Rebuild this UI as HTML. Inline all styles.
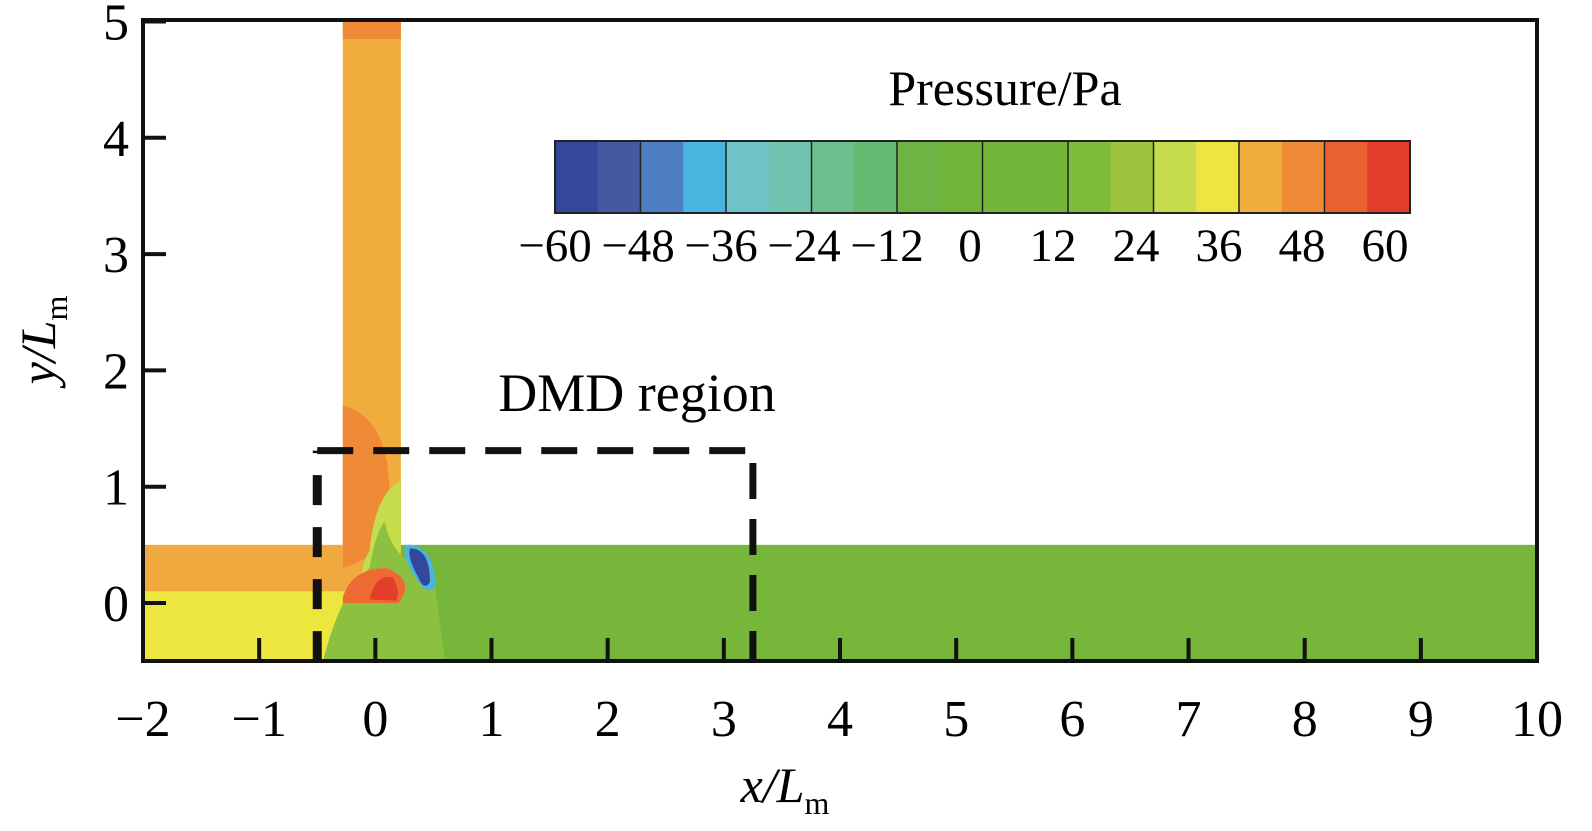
<!DOCTYPE html>
<html><head><meta charset="utf-8"><style>
body{margin:0;background:#fff;}
svg{display:block;font-family:"Liberation Serif",serif;}
</style></head><body>
<svg id="chart" width="1592" height="831" viewBox="0 0 1592 831">
<defs><clipPath id="pc"><rect x="143" y="20" width="1394" height="641"/></clipPath></defs>
<g id="field" clip-path="url(#pc)"></g>
<g id="axes"></g>
<g id="cbar"></g>
<text x="1005" y="105" font-size="50" text-anchor="middle">Pressure/Pa</text>
<text x="637" y="411" font-size="54" text-anchor="middle">DMD region</text>
<text x="785" y="802" font-size="50" text-anchor="middle" font-style="italic">x/L<tspan font-style="normal" font-size="32" dy="12">m</tspan></text>
<text transform="translate(55,340) rotate(-90)" font-size="50" text-anchor="middle" font-style="italic">y/L<tspan font-style="normal" font-size="32" dy="12">m</tspan></text>
</svg>
<script>
const xTicks=[-2,-1,0,1,2,3,4,5,6,7,8,9,10];
const yTicks=[0,1,2,3,4,5];
const cbLevels=[-60,-48,-36,-24,-12,0,12,24,36,48,60];
const cbColors=["#34479a","#46589f","#4d7ec4","#4ab4e0","#6ec3c8","#72c2b0","#6ebf8f","#66b970","#6db445","#72b43a","#74b63a","#74b63a","#80bc3c","#9cc43e","#c6dc4a","#f0e442","#f1ae3e","#ef8a36","#ea6130","#e33e2c"];
const dmdBox=[-0.5,3.25,-0.5,1.31];
const NS="http://www.w3.org/2000/svg";
const X=v=>143+(v+2)*116.17, Y=v=>603-v*116.3;
function mk(p,t,a){const e=document.createElementNS(NS,t);for(const k in a)e.setAttribute(k,a[k]);p.appendChild(e);return e;}
const F=document.getElementById('field');
function reg(x0,x1,y0,y1,c,name){const r=mk(F,'rect',{x:X(x0),y:Y(y1),width:X(x1)-X(x0),height:Y(y0)-Y(y1),fill:c});

return r;}
reg(-2,0.22,-0.6,0.1,"#ede63f","inlet-lower-region");
reg(-2,0.22,0.1,0.5,"#f0a93e","inlet-upper-region");
reg(-0.28,0.22,0.5,5.2,"#f1ac3e","vertical-pipe");
reg(-0.28,0.22,4.85,5.2,"#ef8a36","pipe-top-region");
reg(0.22,10.2,-0.6,0.5,"#75b63b","outlet-channel");
const blobs=[["M"+X(-0.28)+" "+Y(1.7)+" Q"+X(0.1)+" "+Y(1.6)+" "+X(0.12)+" "+Y(1.0)+" L"+X(0.05)+" "+Y(0.5)+" Q"+X(-0.1)+" "+Y(0.35)+" "+X(-0.28)+" "+Y(0.3)+"Z","#ef8a36"],
["M"+X(0.22)+" "+Y(1.05)+" Q"+X(0.0)+" "+Y(0.95)+" "+X(-0.05)+" "+Y(0.45)+" Q"+X(-0.25)+" "+Y(0.1)+" "+X(0.2)+" "+Y(0.15)+" L"+X(0.22)+" "+Y(0.5)+"Z","#c6dc4a"],
["M"+X(0.08)+" "+Y(0.7)+" Q"+X(0.15)+" "+Y(0.35)+" "+X(0.5)+" "+Y(0.25)+" L"+X(0.6)+" "+Y(-0.5)+" L"+X(-0.45)+" "+Y(-0.5)+" Q"+X(-0.3)+" "+Y(0.1)+" "+X(-0.05)+" "+Y(0.3)+" Q"+X(0.0)+" "+Y(0.6)+" "+X(0.08)+" "+Y(0.7)+"Z","#8cc040"],
["M"+X(-0.28)+" "+Y(0.05)+" Q"+X(-0.2)+" "+Y(0.3)+" "+X(0.1)+" "+Y(0.3)+" Q"+X(0.35)+" "+Y(0.2)+" "+X(0.2)+" "+Y(0.0)+" L"+X(-0.28)+" "+Y(0.0)+"Z","#ef6a32"],
["M"+X(-0.05)+" "+Y(0.03)+" Q"+X(0.0)+" "+Y(0.25)+" "+X(0.15)+" "+Y(0.22)+" Q"+X(0.22)+" "+Y(0.1)+" "+X(0.18)+" "+Y(0.02)+"Z","#e33e2c"],
["M"+X(0.26)+" "+Y(0.5)+" Q"+X(0.5)+" "+Y(0.52)+" "+X(0.52)+" "+Y(0.15)+" Q"+X(0.45)+" "+Y(0.05)+" "+X(0.36)+" "+Y(0.2)+" Q"+X(0.22)+" "+Y(0.4)+" "+X(0.26)+" "+Y(0.5)+"Z","#4ab4e0"],
["M"+X(0.3)+" "+Y(0.47)+" Q"+X(0.47)+" "+Y(0.47)+" "+X(0.47)+" "+Y(0.18)+" Q"+X(0.42)+" "+Y(0.1)+" "+X(0.37)+" "+Y(0.22)+" Q"+X(0.27)+" "+Y(0.4)+" "+X(0.3)+" "+Y(0.47)+"Z","#34479a"]];
blobs.forEach((b,i)=>{const p=mk(F,'path',{d:b[0],fill:b[1]});

});
const A=document.getElementById('axes');
const d=mk(A,'path',{d:`M${X(dmdBox[0])} ${Y(dmdBox[2])}V${Y(dmdBox[3])}`,stroke:"#111","stroke-width":9,"stroke-dasharray":"30 22",fill:"none"});


const d2=mk(A,'path',{d:`M${X(dmdBox[0])} ${Y(dmdBox[3])}H${X(dmdBox[1])}V${Y(dmdBox[2])}`,stroke:"#111","stroke-width":7,"stroke-dasharray":"36 20",fill:"none"});


const fr=mk(A,'rect',{x:143,y:20,width:1394,height:641,fill:"none",stroke:"#111","stroke-width":4});


xTicks.forEach(v=>{const l=mk(A,'line',{x1:X(v),x2:X(v),y1:661,y2:638,stroke:"#111","stroke-width":4});


const t=mk(A,'text',{x:X(v),y:736,"font-size":52,"text-anchor":"middle"});t.textContent=(v<0?"\u2212":"")+Math.abs(v);

});
yTicks.forEach(v=>{const l=mk(A,'line',{x1:143,x2:166,y1:Y(v),y2:Y(v),stroke:"#111","stroke-width":4});


const t=mk(A,'text',{x:116,y:Y(v)+18,"font-size":52,"text-anchor":"middle"});t.textContent=v;

});
const C=document.getElementById('cbar');
const cx0=555,cx1=1410,cy=141,ch=72,sw=(cx1-cx0)/cbColors.length;
cbColors.forEach((c,i)=>{const r=mk(C,'rect',{x:cx0+i*sw,y:cy,width:sw+0.5,height:ch,fill:c});

});
cbLevels.forEach((v,i)=>{const bx=cx0+i*(cx1-cx0)/(cbLevels.length-1);
const l=mk(C,'line',{x1:bx,x2:bx,y1:cy,y2:cy+ch,stroke:"#222","stroke-width":1.5});


const t=mk(C,'text',{x:555+i*83,y:261,"font-size":47,"text-anchor":"middle"});t.textContent=(v<0?"\u2212":"")+Math.abs(v);

});
const cb=mk(C,'rect',{x:cx0,y:cy,width:cx1-cx0,height:ch,fill:"none",stroke:"#222","stroke-width":2});


</script>
</body></html>
